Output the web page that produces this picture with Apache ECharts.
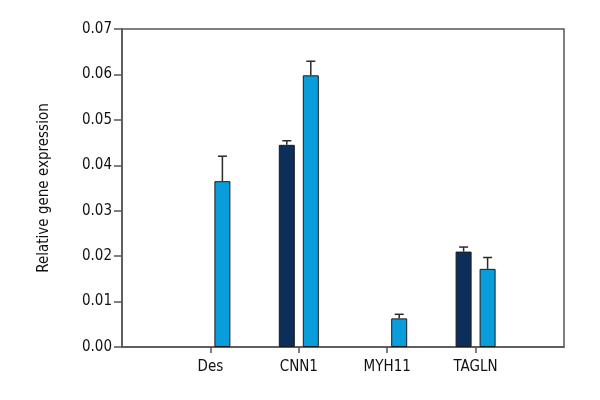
<!DOCTYPE html>
<html>
<head>
<meta charset="utf-8">
<script src="https://cdn.jsdelivr.net/npm/echarts@6/dist/echarts.min.js"></script>
<style>
  html, body { margin: 0; padding: 0; background: #fff; }
  #chart { width: 600px; height: 400px; }
</style>
</head>
<body>
<div id="chart"></div>
<script>
// categories and values
var categories = ['Des', 'CNN1', 'MYH11', 'TAGLN'];
var darkValues = [null, 0.0445, null, 0.0210];
var darkErrors = [null, 0.0009, null, 0.0010];
var lightValues = [0.0365, 0.0598, 0.0063, 0.0172];
var lightErrors = [0.0055, 0.0031, 0.0009, 0.0025];
var yTicks = [0, 0.01, 0.02, 0.03, 0.04, 0.05, 0.06, 0.07];

var FONT = '"Liberation Sans Narrow", "DejaVu Sans Condensed", "Noto Sans", sans-serif';
var BAR_W = 16;
var BAR_OFFSET = 12;

// blank slot on each side so the ticks sit at 1/5 .. 4/5 of the frame
var xCats = [''].concat(categories, ['']);
function pad(arr) { return [null].concat(arr, [null]); }

function errData(values, errs) {
  var out = [];
  values.forEach(function (v, i) {
    if (v != null && errs[i] != null) out.push([i + 1, v, errs[i]]);
  });
  return out;
}

function errorSeries(values, errs, shift) {
  return {
    type: 'custom',
    z: 5,
    silent: true,
    data: errData(values, errs),
    renderItem: function (params, api) {
      var x = api.coord([api.value(0), 0])[0] + shift;
      var top = api.coord([api.value(0), api.value(1)])[1];
      var end = api.coord([api.value(0), api.value(1) + api.value(2)])[1];
      var st = { stroke: '#2a2a2a', lineWidth: 1.5 };
      return {
        type: 'group',
        children: [
          { type: 'line', shape: { x1: x, y1: top, x2: x, y2: end }, style: st },
          { type: 'line', shape: { x1: x - 4.5, y1: end, x2: x + 4.5, y2: end }, style: st }
        ]
      };
    }
  };
}

var chart = echarts.init(document.getElementById('chart'));
chart.setOption({
  animation: false,
  grid: {
    left: 122, right: 36, top: 29, bottom: 53,
    show: true, borderColor: '#555', borderWidth: 1.5
  },
  xAxis: {
    type: 'category',
    data: xCats,
    boundaryGap: false,
    axisLine: { lineStyle: { color: '#555', width: 1.5 } },
    axisTick: {
      length: 6,
      lineStyle: { color: '#555', width: 1.5 },
      interval: function (i) { return i > 0 && i < xCats.length - 1; }
    },
    axisLabel: { color: '#111', fontFamily: FONT, fontSize: 15, margin: 13, interval: 0 },
    splitLine: { show: false }
  },
  yAxis: {
    type: 'value',
    min: yTicks[0],
    max: yTicks[yTicks.length - 1],
    interval: 0.01,
    name: 'Relative gene expression',
    nameLocation: 'middle',
    nameGap: 70,
    nameTextStyle: { color: '#111', fontFamily: FONT, fontSize: 15 },
    axisLine: { show: true, lineStyle: { color: '#555', width: 1.5 } },
    axisTick: { show: true, length: 8, lineStyle: { color: '#555', width: 1.5 } },
    axisLabel: {
      color: '#111', fontFamily: FONT, fontSize: 15, margin: 10,
      formatter: function (v) { return v.toFixed(2); }
    },
    splitLine: { show: false }
  },
  series: [
    {
      type: 'bar',
      data: pad(darkValues),
      barWidth: BAR_W,
      barGap: '50%',
      itemStyle: { color: '#0b2e5a', borderColor: '#1b1b1b', borderWidth: 1 }
    },
    {
      type: 'bar',
      data: pad(lightValues),
      barWidth: BAR_W,
      barGap: '50%',
      itemStyle: { color: '#0a9ddc', borderColor: '#1b1b1b', borderWidth: 1 }
    },
    errorSeries(darkValues, darkErrors, -BAR_OFFSET),
    errorSeries(lightValues, lightErrors, BAR_OFFSET)
  ]
});
</script>
</body>
</html>
